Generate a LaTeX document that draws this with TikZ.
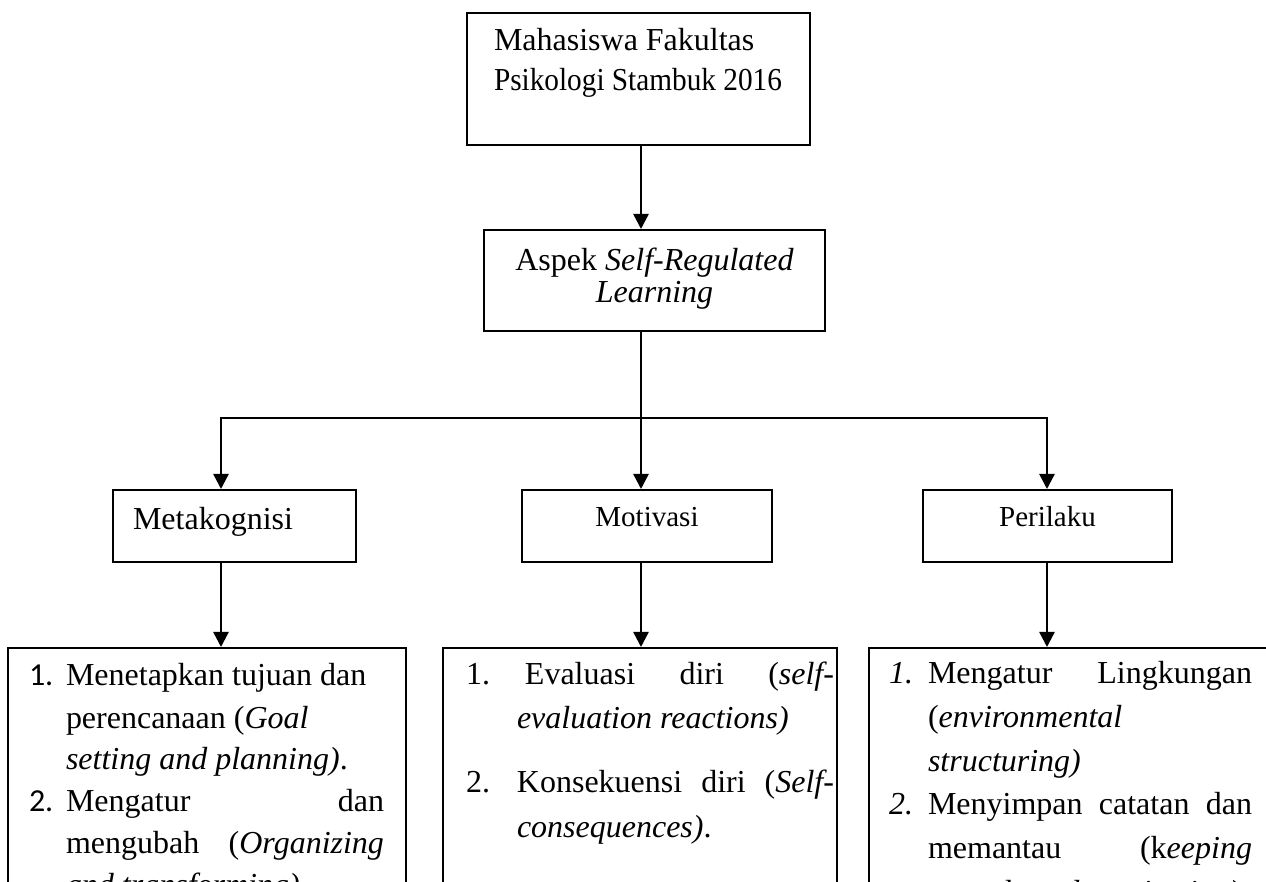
\documentclass[tikz,border=0pt]{standalone}
\usepackage{fontspec}
\usepackage{graphicx}
\setmainfont{Liberation Serif}
\setsansfont{Carlito}
\usetikzlibrary{arrows.meta}
\hyphenpenalty=10000
\tolerance=10000
\hbadness=10000

\tikzset{
  panel/.style={draw, line width=1pt, inner sep=0pt, anchor=north west},
  link/.style={line width=1.2pt},
  arr/.style={link, -{Triangle[length=7.5pt,width=7.5pt]}}
}

\begin{document}
\begin{tikzpicture}[x=0.5pt,y=-0.5pt]
  \useasboundingbox (0,0) rectangle (1266,882);
  \clip (0,0) rectangle (1266,882);

  % Top boxes
  \node[panel, font=\fontsize{16}{20}\selectfont] (mhs) at (466,12)
    {\parbox[c][66pt][t]{171.5pt}{\vspace*{5pt}\hspace*{13.5pt}%
     \begin{tabular}{@{}l@{}}Mahasiswa Fakultas\\\scalebox{0.915}[1]{Psikologi Stambuk 2016}\end{tabular}}};
  \node[panel, font=\fontsize{16}{16}\selectfont] (srl) at (483,229)
    {\parbox[c][50.5pt][t]{170.5pt}{\centering\vspace*{8.8pt}%
     \begin{tabular}{@{}c@{}}Aspek \textit{Self-Regulated}\\\textit{Learning}\end{tabular}}};

  % Aspects
  \node[panel, font=\fontsize{16}{20}\selectfont] (meta) at (112,489)
    {\parbox[c][36pt][t]{121.5pt}{\vspace*{6pt}\hspace*{10pt}\strut Metakognisi}};
  \node[panel, font=\fontsize{14.5}{18}\selectfont] (moti) at (521,489)
    {\parbox[c][36pt][t]{125pt}{\centering\vspace*{5.6pt}\strut Motivasi}};
  \node[panel, font=\fontsize{14.5}{18}\selectfont] (peri) at (922,489)
    {\parbox[c][36pt][t]{124.5pt}{\centering\vspace*{5.6pt}\strut Perilaku}};

  % Lists
  \node[panel, font=\fontsize{16}{21}\selectfont] (listA) at (7,647)
    {\parbox[c][150pt][t]{199pt}{\vspace*{4.3pt}\hspace*{10.5pt}%
     \begin{tabular}{@{}p{18.5pt}@{}p{159pt}@{}}
       \textsf{1.} & Menetapkan tujuan dan\newline perencanaan (\textit{Goal}\newline \textit{setting and planning)}.\\
       \textsf{2.} & Mengatur dan\linebreak mengubah (\textit{Organizing}\linebreak \textit{and transforming)}.
     \end{tabular}}};
  \node[panel, font=\fontsize{16}{22.5}\selectfont] (listB) at (442,647)
    {\parbox[c][150pt][t]{197pt}{\vspace*{2.25pt}\hspace*{11.5pt}%
     \begin{tabular}{@{}p{25.5pt}@{}p{158.5pt}@{}}
       1. & \hspace*{4pt}Evaluasi diri (\textit{self-}\linebreak \textit{evaluation reactions)}\\[9.5pt]
       2. & Konsekuensi diri (\textit{Self-}\linebreak \textit{consequences)}.
     \end{tabular}}};
  \node[panel, font=\fontsize{16}{22}\selectfont] (listC) at (868,647)
    {\parbox[c][150pt][t]{210pt}{\vspace*{2.1pt}\hspace*{10pt}%
     \begin{tabular}{@{}p{19.5pt}@{}p{162pt}@{}}
       \textit{1.} & Mengatur Lingkungan\linebreak (\textit{environmental}\newline \textit{structuring)}\\
       \textit{2.} & Menyimpan catatan dan\linebreak memantau (k\textit{eeping}\linebreak \textit{records and monitoring)}.
     \end{tabular}}};

  % Connectors
  \coordinate (ca) at (221,418);
  \coordinate (cb) at (641,418);
  \coordinate (cc) at (1047,418);
  \draw[arr] (mhs.south -| cb) -- (srl.north -| cb);
  \draw[arr] (srl.south -| cb) -- (moti.north -| cb);
  \draw[arr] (cb) -| (meta.north -| ca);
  \draw[arr] (cb) -| (peri.north -| cc);
  \draw[arr] (meta.south -| ca) -- (listA.north -| ca);
  \draw[arr] (moti.south -| cb) -- (listB.north -| cb);
  \draw[arr] (peri.south -| cc) -- (listC.north -| cc);
\end{tikzpicture}
\end{document}
